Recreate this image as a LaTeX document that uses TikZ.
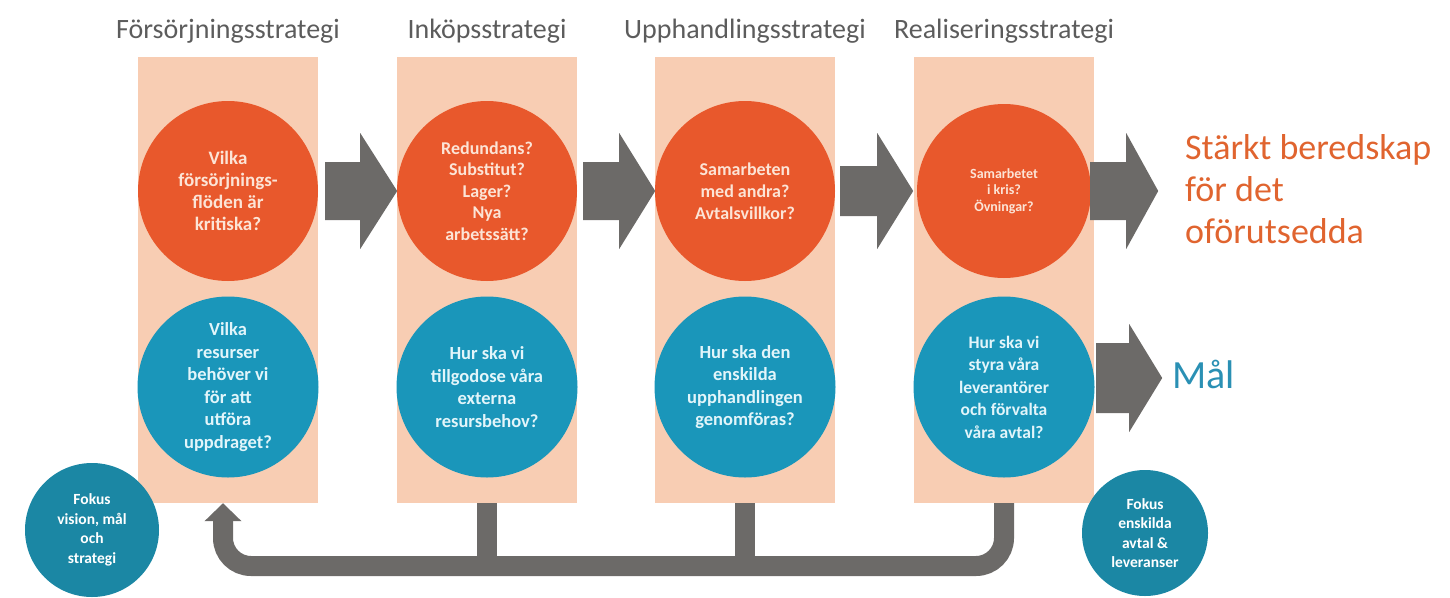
\documentclass[tikz,border=0pt]{standalone}
\usepackage{fontspec}
\setmainfont{Carlito}
\usetikzlibrary{arrows.meta,calc}

\definecolor{peach}{HTML}{F8CDB3}
\definecolor{askorange}{HTML}{E8582C}
\definecolor{askfg}{HTML}{FCE4D6}
\definecolor{needblue}{HTML}{1A96BA}
\definecolor{needfg}{HTML}{E2F5FA}
\definecolor{focusteal}{HTML}{1B87A4}
\definecolor{arrowgray}{HTML}{6C6A68}
\definecolor{headgray}{HTML}{5C5C5C}
\definecolor{goalorange}{HTML}{E0642F}
\definecolor{goalblue}{HTML}{2A90B4}

\begin{document}
\begin{tikzpicture}[x=1pt,y=-1pt,
    column/.style={fill=peach, minimum width=180, minimum height=446, inner sep=0},
    askcircle/.style={circle, fill=askorange, minimum size=180, inner sep=0,
      text=askfg, align=center, font=\bfseries\fontsize{19}{22}\selectfont},
    needcircle/.style={circle, fill=needblue, minimum size=181, inner sep=0,
      text=needfg, align=center, font=\bfseries\fontsize{18.5}{22.5}\selectfont},
    focuscircle/.style={circle, fill=focusteal, minimum size=134, inner sep=0,
      text=white, align=center, font=\bfseries\fontsize{15.5}{19.5}\selectfont},
    heading/.style={anchor=base, text=headgray, font=\fontsize{28}{30}\selectfont},
    connector/.style={draw=arrowgray, line width=20},
  ]
  \useasboundingbox (0,0) rectangle (1450,597);
  \newcommand{\blockArrow}[5]{ % start, body length, tip length, body half, head half
    \fill[arrowgray] #1 ++(0,-#4) -- ++(#2,0) -- ++(0,#4-#5) -- ++(#3-#2,#5)
      -- ++(#2-#3,#5) -- ++(0,#4-#5) -- ++(-#2,0) -- cycle; }

  \coordinate (askrow) at (0,191);
  \coordinate (needrow) at (0,387);
  \coordinate (bar) at (0,566);

  % columns and headings
  \foreach \i/\x/\title in {1/228/Försörjningsstrategi, 2/487/Inköpsstrategi,
      3/745/Upphandlingsstrategi, 4/1004/Realiseringsstrategi} {
    \node[column] (col\i) at (\x,280) {};
    \node[heading] (title\i) at (\x,38) {\title};
  }

  % questions
  \node[askcircle] (ask1) at (col1 |- askrow) {Vilka\\försörjnings-\\flöden är\\kritiska?};
  \node[askcircle, font=\bfseries\fontsize{18}{21.5}\selectfont] (ask2) at (col2 |- askrow) {Redundans?\\Substitut?\\Lager?\\Nya\\arbetssätt?};
  \node[askcircle, font=\bfseries\fontsize{18}{22}\selectfont] (ask3) at (col3 |- askrow) {Samarbeten\\med andra?\\Avtalsvillkor?};
  \node[askcircle, minimum size=174, font=\bfseries\fontsize{14}{16.5}\selectfont]
    (ask4) at (col4 |- askrow) {Samarbetet\\i kris?\\Övningar?};

  \node[needcircle] (need1) at (col1 |- needrow) {Vilka\\resurser\\behöver vi\\för att\\utföra\\uppdraget?};
  \node[needcircle] (need2) at (col2 |- needrow) {Hur ska vi\\tillgodose våra\\externa\\resursbehov?};
  \node[needcircle] (need3) at (col3 |- needrow) {Hur ska den\\enskilda\\upphandlingen\\genomföras?};
  \node[needcircle, font=\bfseries\fontsize{17.5}{22.5}\selectfont] (need4) at (col4 |- needrow) {Hur ska vi\\styra våra\\leverantörer\\och förvalta\\våra avtal?};

  % block arrows
  \blockArrow{($(col1.east |- ask1)+(7,0)$)}{35}{72}{29}{58}
  \blockArrow{($(col2.east |- ask2)+(6,0)$)}{36}{72}{29}{58}
  \blockArrow{($(col3.east |- ask3)+(5,0)$)}{37}{73}{25}{58}
  \blockArrow{($(col4.east |- ask4)+(-4,0)$)}{36}{68}{29}{58}
  \blockArrow{($(col4.east |- 0,378)+(2,0)$)}{33}{66}{35}{54}

  % goals
  \node[anchor=west, align=left, text=goalorange, inner sep=0,
    font=\fontsize{36}{42}\selectfont] (goal1) at (1185,189)
    {Stärkt beredskap\\för det\\oförutsedda};
  \node[anchor=base west, text=goalblue, inner sep=0,
    font=\fontsize{40}{42}\selectfont] (goal2) at (1172,388) {Mål};

  % feedback loop
  \draw[connector] (col2.south) -- (col2.south |- bar);
  \draw[connector] (col3.south) -- (col3.south |- bar);
  \draw[connector, rounded corners=28, -{Triangle[width=36pt,length=18pt]}]
    (col4.south) -- (col4.south |- bar) -- ([xshift=-5]col1.south |- bar) -- ([xshift=-5]col1.south);

  \node[focuscircle] (focus1) at (92,530) {Fokus\\vision, mål\\och\\strategi};
  \node[focuscircle, minimum size=126] (focus2) at (1145,533) {Fokus\\enskilda\\avtal \&\\leveranser};
\end{tikzpicture}
\end{document}
